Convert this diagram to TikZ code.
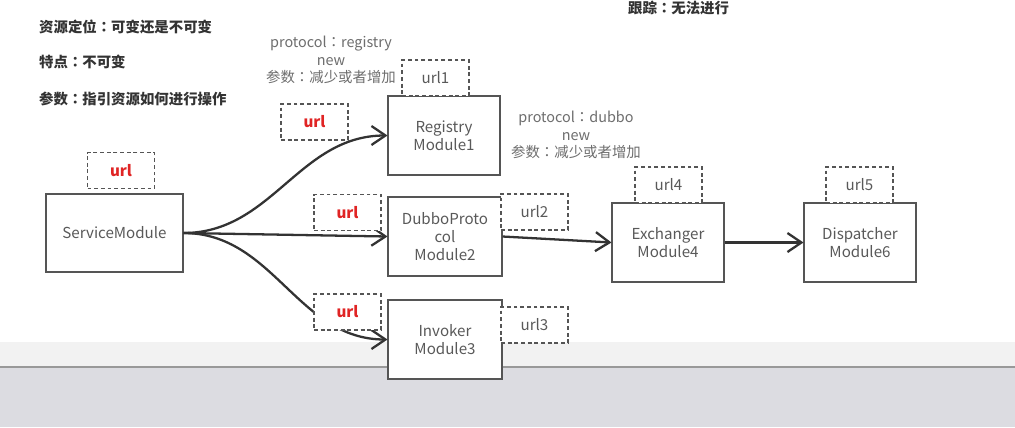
\documentclass[tikz,border=0pt]{standalone}
\usepackage{fontspec}
\setmainfont{Noto Sans CJK SC}
\newfontfamily\tcfont{Noto Sans CJK TC}
\usepackage{xcolor}
\usetikzlibrary{arrows.meta,positioning}
\newcommand{\zhcolon}{{\tcfont ：}}
\definecolor{boxline}{HTML}{555555}
\definecolor{boxtext}{HTML}{595959}
\definecolor{notetext}{HTML}{6E6E6E}
\definecolor{urlred}{HTML}{E02424}
\definecolor{arrowc}{HTML}{333333}
\definecolor{bandgrey}{HTML}{F2F2F2}
\definecolor{floorgrey}{HTML}{DCDCE1}
\tikzset{
  module/.style={draw=boxline, fill=white, line width=0.6pt, minimum width=2.24cm, minimum height=1.58cm, align=center, text=boxtext, font=\fontsize{8.6}{10.2}\selectfont, inner sep=1pt},
  tag/.style={draw=boxline, dash pattern=on 2.2pt off 1.6pt, fill=white, line width=0.6pt, minimum width=1.34cm, minimum height=0.72cm, text=boxtext, font=\fontsize{8.6}{10.2}\selectfont},
  redtag/.style={tag, text=urlred, font=\fontsize{8.6}{10.2}\selectfont\bfseries},
  note/.style={anchor=west, text=black!80, font=\fontsize{8.2}{10}\selectfont\bfseries},
  proto/.style={align=center, text=notetext, font=\fontsize{8.2}{10}\selectfont},
  flow/.style={draw=arrowc, line width=1.3pt, -{Straight Barb[length=2.8mm,width=3.8mm]}}
}
\begin{document}
\begin{tikzpicture}[x=0.02cm,y=-0.02cm]
        \useasboundingbox (0,0) rectangle (1015,427);
        % screen background
        \fill[white] (0,0) rectangle (1015,342);
        \fill[bandgrey] (0,342) rectangle (1015,366);
        \fill[floorgrey] (0,368) rectangle (1015,427);
        \draw[black!40, line width=1.2pt] (0,367) -- (1015,367);

        \node[note] (locate) at (33,27) {资源定位\zhcolon 可变还是不可变};
        \node[note] (feature) at (33,62) {特点\zhcolon 不可变};
        \node[note] (param) at (33,99) {参数\zhcolon 指引资源如何进行操作};
        \node[note] (trace) at (622,8) {跟踪\zhcolon 无法进行};
        \node[proto] (regnote) at (331,60) {protocol\zhcolon registry\\new\\参数\zhcolon 减少或者增加};
        \node[proto] (dubnote) at (576,135) {protocol\zhcolon dubbo\\new\\参数\zhcolon 减少或者增加};

        \node[module, minimum width=2.74cm, minimum height=1.56cm] (svc) at (114.5,233) {ServiceModule};
        \node[module] (reg) at (444,135.5) {Registry\\Module1};
        \node[module, minimum width=2.28cm] (dub) at (445,236.5) {DubboProto\\col\\Module2};
        \node[module, minimum width=2.28cm] (inv) at (445,339.5) {Invoker\\Module3};
        \node[module] (exc) at (668,242.5) {Exchanger\\Module4};
        \node[module] (dis) at (860,242.5) {Dispatcher\\Module6};

        \draw[flow] (svc.east) to[out=0,in=180] (reg.west);
        \draw[flow] (svc.east) -- (dub.west);
        \draw[flow] (svc.east) to[out=0,in=180] (inv.west);
        \draw[flow] (dub.east) -- (exc.west);
        \draw[flow] (exc.east) -- (dis.west);

        % url tags
        \node[redtag] (svcurl) at (121,170.5) {url};
        \node[redtag] (regurl) at (314.5,122) {url};
        \node[redtag] (duburl) at (347.5,212.5) {url};
        \node[redtag] (invurl) at (347.5,312) {url};
        \node[tag] (url1) at (435.5,78) {url1};
        \node[tag] (url2) at (534.5,212) {url2};
        \node[tag] (url3) at (534.5,325) {url3};
        \node[tag] (url4) at (668.5,185) {url4};
        \node[tag] (url5) at (859.5,185) {url5};
    \end{tikzpicture}
\end{document}
